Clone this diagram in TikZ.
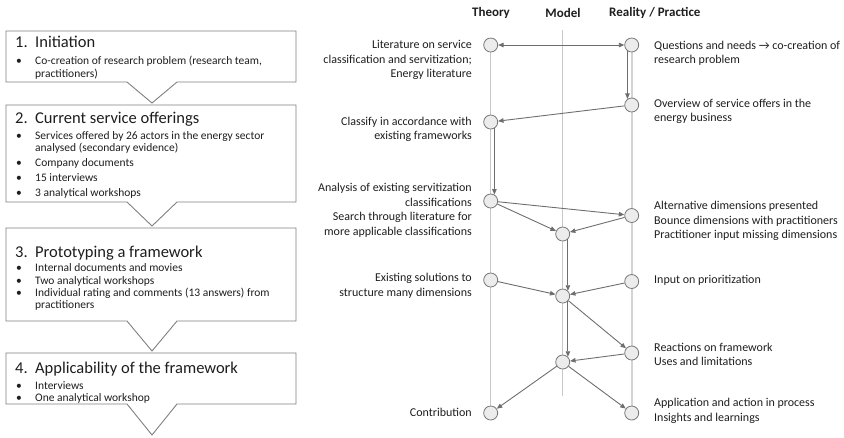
\documentclass[tikz,border=0pt]{standalone}
\usepackage{fontspec}
\setmainfont{Carlito}
\usetikzlibrary{arrows.meta,backgrounds}

\definecolor{flowgray}{HTML}{6E6E6E}
\definecolor{ringgray}{HTML}{7A7A7A}
\definecolor{ringfill}{HTML}{ECECEC}
\definecolor{lanegray}{HTML}{C8C8C8}
\definecolor{lanegraylight}{HTML}{D4D4D4}
\definecolor{framegray}{HTML}{808080}
\definecolor{inkblack}{HTML}{1E1E1E}

\tikzset{
  stage/.style={circle, draw=ringgray, fill=ringfill, line width=0.8pt,
                minimum size=14pt, inner sep=0pt},
  flow/.style={draw=flowgray, line width=0.9pt,
               -{Triangle[length=5.5pt,width=4.5pt]}},
  lane/.style={draw=lanegray, line width=0.8pt},
  lanewide/.style={draw=lanegraylight, line width=1.8pt},
  lbl/.style={font=\fontsize{12}{14.5}\selectfont, inner sep=0pt, text=inkblack},
  hdr/.style={font=\fontsize{13}{15}\selectfont\bfseries, inner sep=0pt, text=inkblack},
  phase/.style={draw=framegray, line width=0.9pt, fill=white},
  phasetitle/.style={font=\fontsize{16.5}{19}\selectfont, anchor=base west,
                     inner sep=0pt, text=inkblack},
  phaseitem/.style={font=\fontsize{11.5}{13}\selectfont, anchor=base west,
                    inner sep=0pt, text=inkblack},
}
\newcommand{\dotitem}{\llap{\makebox[19pt][l]{•}}}
\newcommand{\numlabel}[1]{\makebox[20pt][l]{#1}}

\begin{document}
\begin{tikzpicture}[x=1pt,y=-1pt]
\useasboundingbox (0,0) rectangle (844,437);

% ---------- research phases (left) ----------
\draw[phase] (6,31) -- (296,31) -- (296,82) -- (177,82) -- (152,103) -- (127,82) -- (6,82) -- cycle;
\draw[phase] (6,105) -- (296,105) -- (296,202) -- (177,202) -- (152,226) -- (127,202) -- (6,202) -- cycle;
\draw[phase] (6,228) -- (296,228) -- (296,321) -- (177,321) -- (152,351) -- (127,321) -- (6,321) -- cycle;
\draw[phase] (6,353) -- (296,353) -- (296,404) -- (177,404) -- (152,435) -- (127,404) -- (6,404) -- cycle;

\node[phasetitle] (p1t) at (15,47) {\numlabel{1.}Initiation};
\node[phaseitem] (p1a) at (35,64.5) {\dotitem Co-creation of research problem (research team,};
\node[phaseitem] (p1b) at (35,77.5) {practitioners)};

\node[phasetitle] (p2t) at (15,123.5) {\numlabel{2.}Current service offerings};
\node[phaseitem] (p2a) at (35,139.5) {\dotitem Services offered by 26 actors in the energy sector};
\node[phaseitem] (p2b) at (35,151.5) {analysed (secondary evidence)};
\node[phaseitem] (p2c) at (35,166.5) {\dotitem Company documents};
\node[phaseitem] (p2d) at (35,181.5) {\dotitem 15 interviews};
\node[phaseitem] (p2e) at (35,196.5) {\dotitem 3 analytical workshops};

\node[phasetitle] (p3t) at (15,257.5) {\numlabel{3.}Prototyping a framework};
\node[phaseitem] (p3a) at (35,271.5) {\dotitem Internal documents and movies};
\node[phaseitem] (p3b) at (35,284.5) {\dotitem Two analytical workshops};
\node[phaseitem] (p3c) at (35,296.5) {\dotitem Individual rating and comments (13 answers) from};
\node[phaseitem] (p3d) at (35,308.5) {practitioners};

\node[phasetitle] (p4t) at (15,373.5) {\numlabel{4.}Applicability of the framework};
\node[phaseitem] (p4a) at (35,389.5) {\dotitem Interviews};
\node[phaseitem] (p4b) at (35,401.5) {\dotitem One analytical workshop};

% ---------- column headers ----------
\node[hdr] (hTheory) at (491,13) {Theory};
\node[hdr] (hModel) at (563,13) {Model};
\node[hdr, anchor=west] (hReality) at (609,13) {Reality / Practice};

% ---------- stages ----------
\node[stage] (T1) at (490.7,45) {};
\node[stage] (T2) at (490.7,122) {};
\node[stage] (T3) at (490.7,201) {};
\node[stage] (T4) at (490.7,280) {};
\node[stage] (T5) at (490.7,413) {};

\node[stage] (M1) at (562.7,234) {};
\node[stage] (M2) at (562.7,296) {};
\node[stage] (M3) at (562.7,362) {};

\node[stage] (R1) at (631.7,45) {};
\node[stage] (R2) at (631.7,105) {};
\node[stage] (R3) at (631.7,215.5) {};
\node[stage] (R4) at (631.7,281.5) {};
\node[stage] (R5) at (631.7,353) {};
\node[stage] (R6) at (631.7,413) {};

\coordinate (mtop) at (562.7,30);
\coordinate (mbot) at (562.7,396);

% ---------- lanes behind the stages ----------
\begin{scope}[on background layer]
  \draw[lane] (T1.center) -- (T5.center);
  \draw[lane] (mtop) -- (mbot);
  \draw[lanewide] (R1.center) -- (R6.center);
\end{scope}

% ---------- flows ----------
\draw[flow, {Triangle[length=5.5pt,width=4.5pt]}-{Triangle[length=5.5pt,width=4.5pt]}] (T1) -- (R1);
\draw[flow] (R1.235) -- (R2.125);
\draw[flow] (R2) -- (T2);
\draw[flow] (T2.-60) -- (T3.60);
\draw[flow] (T3) -- (R3);
\draw[flow] (T3) -- (M1);
\draw[flow] (R3) -- (M1);
\draw[flow] (M1.-45) -- (M2.45);
\draw[flow] (T4) -- (M2);
\draw[flow] (R4) -- (M2);
\draw[flow] (M2) -- (R5);
\draw[flow] (M2.-45) -- (M3.45);
\draw[flow] (R5) -- (M3);
\draw[flow] (M3) -- (T5);
\draw[flow] (M3) -- (R6);

% ---------- theory labels ----------
\node[lbl, anchor=east, align=right] (lT1) at (472,60) {Literature on service\\classification and servitization;\\Energy literature};
\node[lbl, anchor=east, align=right] (lT2) at (472,129.5) {Classify in accordance with\\existing frameworks};
\node[lbl, anchor=east, align=right] (lT3) at (472,210.5) {Analysis of existing servitization\\classifications\\Search through literature for\\more applicable classifications};
\node[lbl, anchor=east, align=right] (lT4) at (472,286) {Existing solutions to\\structure many dimensions};
\node[lbl, anchor=east, align=right] (lT5) at (472,412) {Contribution};

% ---------- practice labels ----------
\node[lbl, anchor=west, align=left] (lR1) at (654,53.3) {Questions and needs → co-creation of\\research problem};
\node[lbl, anchor=west, align=left] (lR2) at (654,111.5) {Overview of service offers in the\\energy business};
\node[lbl, anchor=west, align=left] (lR3) at (654,221) {Alternative dimensions presented\\Bounce dimensions with practitioners\\Practitioner input missing dimensions};
\node[lbl, anchor=west, align=left] (lR4) at (654,280) {Input on prioritization};
\node[lbl, anchor=west, align=left] (lR5) at (654,354.5) {Reactions on framework\\Uses and limitations};
\node[lbl, anchor=west, align=left] (lR6) at (654,411) {Application and action in process\\Insights and learnings};
\end{tikzpicture}
\end{document}
